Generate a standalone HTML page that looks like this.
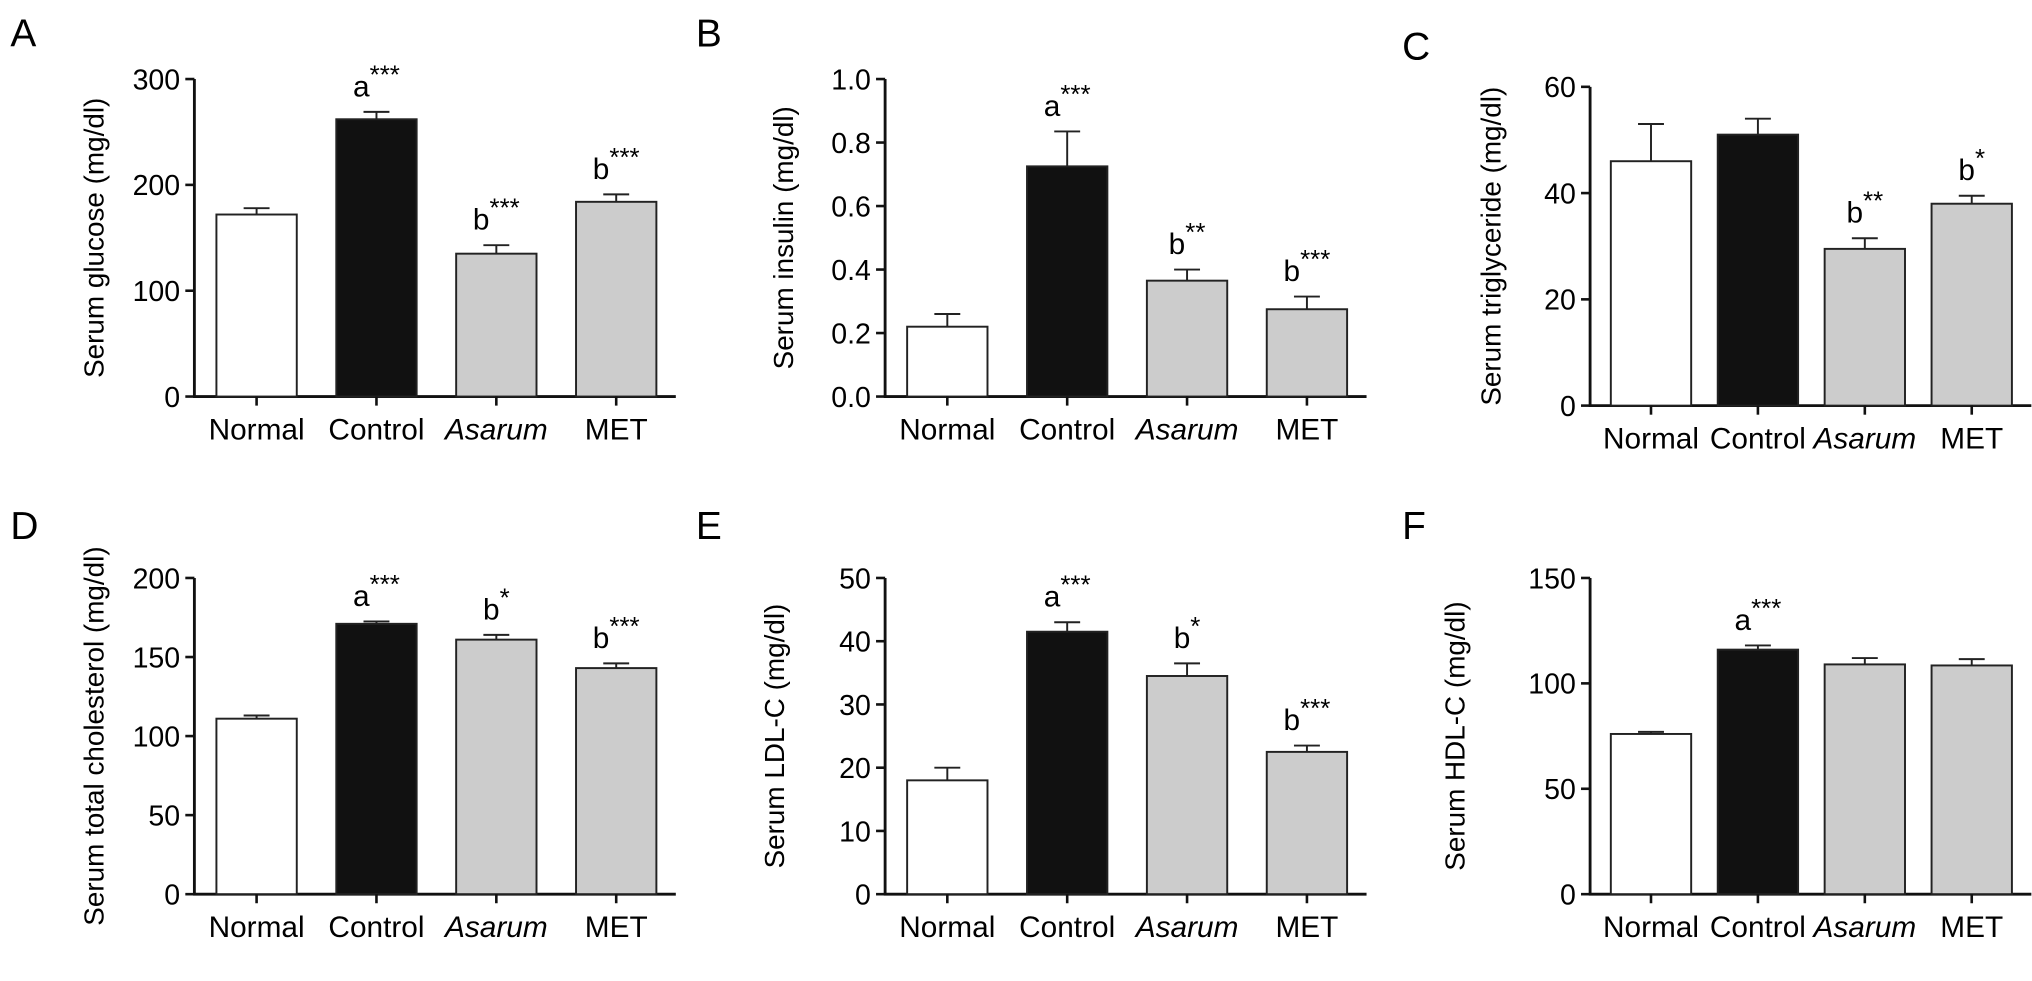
<!DOCTYPE html>
<html><head><meta charset="utf-8"><style>
html,body{margin:0;padding:0;background:#fff;}
svg{display:block;font-family:"Liberation Sans",Arial,sans-serif;}
</style></head><body>
<svg id="fig" width="2032" height="981" viewBox="0 0 1568 757" preserveAspectRatio="none"></svg>
<script>
const categories = ["Normal","Control","Asarum","MET"];
const glucoseVals = [172,262,135,184];
const glucoseErr = [6,7,8,7];
const insulinVals = [0.22,0.725,0.365,0.275];
const insulinErr = [0.04,0.11,0.035,0.04];
const trigVals = [46,51,29.5,38];
const trigErr = [7,3,2,1.5];
const cholVals = [111,171,161,143];
const cholErr = [2,1.5,3,3];
const ldlVals = [18,41.5,34.5,22.5];
const ldlErr = [2,1.5,2,1];
const hdlVals = [76,116,109,108.5];
const hdlErr = [1,2,3,3];
const glucoseTicks = [0,100,200,300];
const insulinTicks = ["0.0","0.2","0.4","0.6","0.8","1.0"];
const trigTicks = [0,20,40,60];
const cholTicks = [0,50,100,150,200];
const ldlTicks = [0,10,20,30,40,50];
const hdlTicks = [0,50,100,150];
const glucoseSig = [null,["a","***"],["b","***"],["b","***"]];
const insulinSig = [null,["a","***"],["b","**"],["b","***"]];
const trigSig = [null,null,["b","**"],["b","*"]];
const cholSig = [null,["a","***"],["b","*"],["b","***"]];
const ldlSig = [null,["a","***"],["b","*"],["b","***"]];
const hdlSig = [null,["a","***"],null,null];

const NS="http://www.w3.org/2000/svg";
const svg=document.getElementById('fig');
function mk(tag,attrs,parent){const e=document.createElementNS(NS,tag);for(const k in attrs)e.setAttribute(k,attrs[k]);(parent||svg).appendChild(e);return e;}

const panels=[
 {id:"a",letter:"A",lx:8,ly:36,ax:150,y0:306,yTop:61,max:300,ticks:glucoseTicks,vals:glucoseVals,err:glucoseErr,sig:glucoseSig,title:"Serum glucose (mg/dl)",tx:80,bx0:167,step:92.5},
 {id:"b",letter:"B",lx:537,ly:36,ax:683,y0:306,yTop:61,max:1.0,ticks:insulinTicks,vals:insulinVals,err:insulinErr,sig:insulinSig,title:"Serum insulin (mg/dl)",tx:612,bx0:700,step:92.5},
 {id:"c",letter:"C",lx:1082,ly:46,ax:1227,y0:313,yTop:67,max:60,ticks:trigTicks,vals:trigVals,err:trigErr,sig:trigSig,title:"Serum triglyceride (mg/dl)",tx:1158,bx0:1243,step:82.5},
 {id:"d",letter:"D",lx:8,ly:416,ax:150,y0:690,yTop:446,max:200,ticks:cholTicks,vals:cholVals,err:cholErr,sig:cholSig,title:"Serum total cholesterol (mg/dl)",tx:80,bx0:167,step:92.5},
 {id:"e",letter:"E",lx:537,ly:416,ax:683,y0:690,yTop:446,max:50,ticks:ldlTicks,vals:ldlVals,err:ldlErr,sig:ldlSig,title:"Serum LDL-C (mg/dl)",tx:605,bx0:700,step:92.5},
 {id:"f",letter:"F",lx:1082,ly:416,ax:1227,y0:690,yTop:446,max:150,ticks:hdlTicks,vals:hdlVals,err:hdlErr,sig:hdlSig,title:"Serum HDL-C (mg/dl)",tx:1130,bx0:1243,step:82.5}
];
const fills=["#ffffff","#111111","#cccccc","#cccccc"];
const bw=62;

panels.forEach(p=>{
 const step=p.step;
 const g=mk('g',{});
 
 
 const y=v=>p.y0-(v/p.max)*(p.y0-p.yTop);
 const L=mk('text',{x:p.lx,y:p.ly,'font-size':30},g);L.textContent=p.letter;
 
 
 const t=mk('text',{x:0,y:0,'font-size':21.5,'text-anchor':'middle',transform:`translate(${p.tx},${(p.y0+p.yTop)/2}) rotate(-90)`},g);t.textContent=p.title;
 
 
 const xEnd=p.bx0+3*step+bw+15;
 mk('line',{x1:p.ax,y1:p.yTop,x2:p.ax,y2:p.y0+1,stroke:'#111','stroke-width':2.2},g);
 mk('line',{x1:p.ax-1,y1:p.y0,x2:xEnd,y2:p.y0,stroke:'#111','stroke-width':2.2},g);
 p.ticks.forEach(tk=>{
  const ty=y(parseFloat(tk));
  mk('line',{x1:p.ax-7,y1:ty,x2:p.ax,y2:ty,stroke:'#111','stroke-width':2},g);
  const tl=mk('text',{x:p.ax-11,y:ty+8,'font-size':22,'text-anchor':'end'},g);tl.textContent=tk;
  
  
 });
 p.vals.forEach((v,i)=>{
  const x=p.bx0+i*step, cx=x+bw/2, top=y(v), et=y(v+p.err[i]);
  mk('line',{x1:cx,y1:top,x2:cx,y2:et,stroke:'#222','stroke-width':1.5},g);
  mk('line',{x1:cx-10,y1:et,x2:cx+10,y2:et,stroke:'#222','stroke-width':1.5},g);
  const r=mk('rect',{x:x,y:top,width:bw,height:p.y0-top,fill:fills[i],stroke:'#222','stroke-width':1.5},g);
  
  
  mk('line',{x1:cx,y1:p.y0,x2:cx,y2:p.y0+7,stroke:'#111','stroke-width':2},g);
  const cl=mk('text',{x:cx,y:p.y0+33,'font-size':23,'text-anchor':'middle','font-style':i==2?'italic':'normal'},g);cl.textContent=categories[i];
  
  
  const s=p.sig[i];
  if(s){
   const st=mk('text',{x:cx,y:et-12,'font-size':23,'text-anchor':'middle'},g);
   
   
   const a=mk('tspan',{},st);a.textContent=s[0];
   const b=mk('tspan',{dy:-10,'font-size':20},st);b.textContent=s[1];
  }
 });
});
</script>
</body></html>
